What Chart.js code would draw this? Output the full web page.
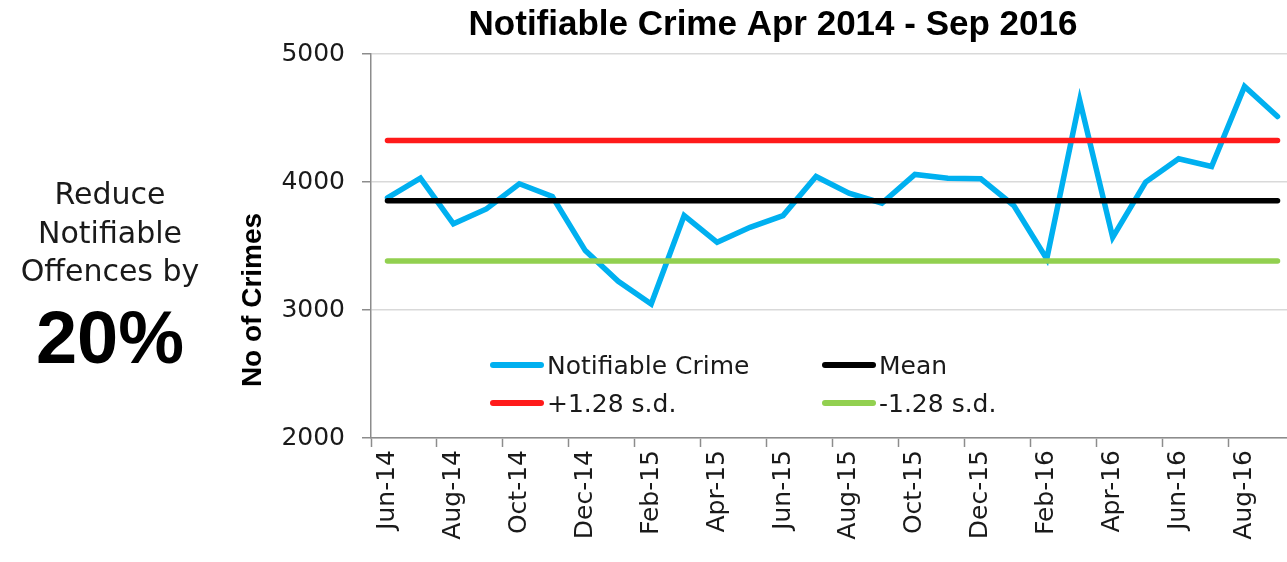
<!DOCTYPE html>
<html>
<head>
<meta charset="utf-8">
<title>Notifiable Crime Apr 2014 - Sep 2016</title>
<script src="https://cdn.jsdelivr.net/npm/chart.js@4.4.0/dist/chart.umd.min.js"></script>
<style>
  body { margin: 0; width: 1287px; height: 562px; overflow: hidden; background: #fff; color: #1a1a1a; font-family: "DejaVu Sans", sans-serif; }
  #wrap { position: absolute; left: 0; top: 0; width: 1294px; height: 562px; }
  .aim { position: absolute; left: 0; width: 220px; text-align: center; }
  #aimText { top: 175px; font-size: 30px; line-height: 38.5px; }
  #aimPct { top: 301px; font: bold 74px/74px "Liberation Sans", Arial, sans-serif; color: #000; }
  #yTitle { position: absolute; left: 102px; top: 285px; width: 300px; text-align: center; font: bold 28px/30px "Liberation Sans", Arial, sans-serif; color: #000; transform: rotate(-90deg); }
  .lg { position: absolute; height: 30px; display: flex; align-items: center; font-size: 25px; white-space: nowrap; }
  .lg span.sw { display: inline-block; width: 54px; height: 6px; border-radius: 3px; margin-right: 3px; }
</style>
</head>
<body>
<div id="wrap"><canvas id="chart--crime" width="1294" height="562"></canvas></div>
<div class="aim" id="aimText">Reduce<br>Notifiable<br>Offences by</div>
<div class="aim" id="aimPct">20%</div>
<div id="yTitle">No of Crimes</div>
<div id="legend"></div>
<script>
// months Jun-14 .. Sep-16
const months = [
    'Jun-14', 'Jul-14', 'Aug-14', 'Sep-14', 'Oct-14', 'Nov-14', 'Dec-14',
    'Jan-15', 'Feb-15', 'Mar-15', 'Apr-15', 'May-15', 'Jun-15', 'Jul-15',
    'Aug-15', 'Sep-15', 'Oct-15', 'Nov-15', 'Dec-15',
    'Jan-16', 'Feb-16', 'Mar-16', 'Apr-16', 'May-16', 'Jun-16', 'Jul-16',
    'Aug-16', 'Sep-16'
];
const crimes = [
    3876, 4030, 3673, 3790, 3986, 3887, 3464,
    3224, 3047, 3738, 3529, 3646, 3738, 4043,
    3913, 3834, 4059, 4030, 4025,
    3816, 3399, 4638, 3568, 3999, 4181, 4121,
    4747, 4512
];
// control lines
const meanValue = 3854;
const upperValue = 4325;   // +1.28 s.d.
const lowerValue = 3383;   // -1.28 s.d.
const yTicks = [2000, 3000, 4000, 5000];

const textCol = '#1a1a1a';
const axisCol = '#8c8c8c';

function flat(v) {
    return months.map(() => v);
}

const data_crime = {
    labels: months,
    datasets: [{
        label: 'Notifiable Crime',
        data: crimes,
        borderColor: '#00b0f0',
        backgroundColor: '#00b0f0',
        order: 1
    }, {
        label: 'Mean',
        data: flat(meanValue),
        borderColor: '#000000',
        backgroundColor: '#000000',
        order: 0
    }, {
        label: '+1.28 s.d.',
        data: flat(upperValue),
        borderColor: '#ff1a1a',
        backgroundColor: '#ff1a1a',
        order: 0
    }, {
        label: '-1.28 s.d.',
        data: flat(lowerValue),
        borderColor: '#92d050',
        backgroundColor: '#92d050',
        order: 0
    }]
};

const config_crime = {
    type: 'line',
    data: data_crime,
    options: {
        responsive: false,
        animation: false,
        devicePixelRatio: 1,
        layout: { padding: { left: 252, right: 0, top: 0, bottom: 0 } },
        elements: {
            line: { borderWidth: 5.5, tension: 0, borderCapStyle: 'round', fill: false },
            point: { radius: 0, hoverRadius: 0 }
        },
        plugins: {
            legend: { display: false },
            tooltip: { enabled: false },
            title: {
                display: true,
                text: 'Notifiable Crime Apr 2014 - Sep 2016',
                color: '#000',
                font: { family: '"Liberation Sans", Arial, sans-serif', size: 35, weight: 'bold', lineHeight: 1.2 },
                padding: { top: 4, bottom: 8 }
            }
        },
        scales: {
            x: {
                offset: true,
                grid: {
                    offset: true,
                    drawOnChartArea: false,
                    tickLength: 9,
                    tickWidth: 1.5,
                    tickColor: (ctx) => ctx.index % 2 === 0 ? axisCol : 'rgba(0,0,0,0)'
                },
                border: { color: axisCol, width: 1.5 },
                ticks: {
                    autoSkip: false,
                    minRotation: 90,
                    maxRotation: 90,
                    padding: 3,
                    color: textCol,
                    font: { family: '"DejaVu Sans", sans-serif', size: 25 },
                    callback: function (val, i) {
                        return i % 2 === 0 ? this.getLabelForValue(val) : '';
                    }
                },
                afterFit: (scale) => {
                    scale.height = 124;
                    scale.paddingLeft = 0;
                    scale.paddingRight = 0;
                }
            },
            y: {
                min: yTicks[0],
                max: yTicks[yTicks.length - 1],
                afterBuildTicks: (scale) => { scale.ticks = yTicks.map(v => ({ value: v })); },
                grid: { color: '#d9d9d9', lineWidth: 1.5, tickLength: 9, tickColor: axisCol, tickWidth: 1.5 },
                border: { color: axisCol, width: 1.5 },
                ticks: {
                    padding: 17,
                    color: textCol,
                    font: { family: '"DejaVu Sans", sans-serif', size: 25 },
                    callback: (v) => String(v)
                },
                afterFit: (scale) => { scale.width = 119; }
            }
        }
    }
};

var chartcrime = new Chart(
    document.getElementById('chart--crime'),
    config_crime
);

// legend inside the plot, two columns
const legendCols = [490, 822];
const legendRows = [365, 403];
const legendBox = document.getElementById('legend');
chartcrime.data.datasets.forEach((ds, i) => {
    const item = document.createElement('div');
    item.className = 'lg';
    item.style.left = legendCols[i % 2] + 'px';
    item.style.top = (legendRows[Math.floor(i / 2)] - 15) + 'px';
    const sw = document.createElement('span');
    sw.className = 'sw';
    sw.style.background = ds.borderColor;
    item.appendChild(sw);
    item.appendChild(document.createTextNode(ds.label));
    legendBox.appendChild(item);
});
</script>
</body>
</html>
